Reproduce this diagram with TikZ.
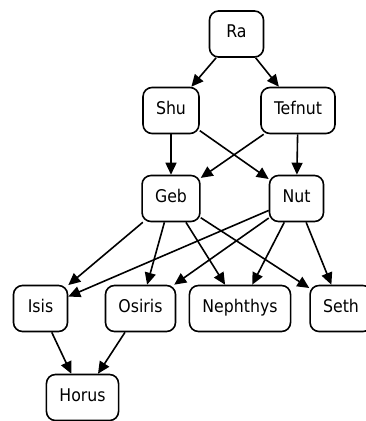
\documentclass[tikz,border=0pt]{standalone}
\usepackage{fontspec}
\setmainfont{DejaVu Sans Condensed}
\usetikzlibrary{arrows.meta}
\begin{document}
\begin{tikzpicture}[x=1pt,y=-1pt,
  god/.style={draw, line width=1.6pt, rounded corners=9pt, minimum width=54pt,
    minimum height=46pt, inner xsep=13pt, text height=0.73em, text depth=0pt,
    font=\fontsize{17.5}{20}\selectfont},
  link/.style={line width=1.6pt, -{Triangle[length=12pt,width=11pt]}}]
\useasboundingbox (0,0) rectangle (366,421);
\node[god] (ra) at (236.5,34) {Ra};
\node[god] (shu) at (171,110.5) {Shu};
\node[god] (tefnut) at (298,110.5) {Tefnut};
\node[god] (geb) at (171,198.5) {Geb};
\node[god] (nut) at (296.5,198.5) {Nut};
\node[god] (isis) at (40.5,308.5) {Isis};
\node[god] (osiris) at (140.5,308.5) {Osiris};
\node[god] (nephthys) at (240,308.5) {Nephthys};
\node[god] (seth) at (341,308.5) {Seth};
\node[god] (horus) at (82.5,397.5) {Horus};
\draw[link] (ra) -- (shu);
\draw[link] (ra) -- (tefnut);
\draw[link] (shu) -- (geb);
\draw[link] (shu) -- (nut);
\draw[link] (tefnut) -- (geb);
\draw[link] (tefnut) -- (nut);
\draw[link] (geb) -- (isis);
\draw[link] (geb) -- (osiris);
\draw[link] (geb) -- (nephthys);
\draw[link] (geb) -- (seth);
\draw[link] (nut) -- (isis);
\draw[link] (nut) -- (osiris);
\draw[link] (nut) -- (nephthys);
\draw[link] (nut) -- (seth);
\draw[link] (isis) -- (horus);
\draw[link] (osiris) -- (horus);
\end{tikzpicture}
\end{document}
